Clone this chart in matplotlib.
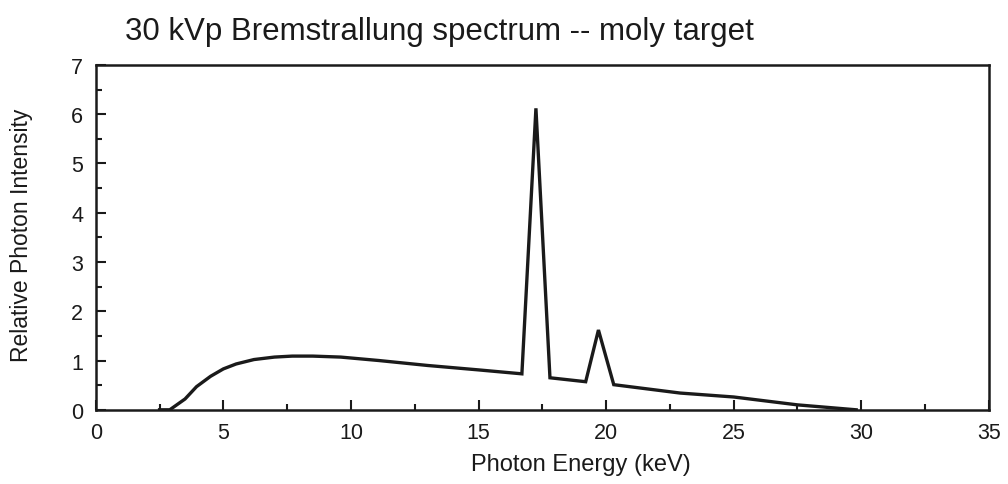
import numpy as np
import matplotlib
matplotlib.use("Agg")
import matplotlib.pyplot as plt
from matplotlib.ticker import MultipleLocator

# values
energy = [2.5, 2.9, 3.5, 3.95, 4.5, 5.0, 5.5, 6.2, 7.0, 7.7, 8.5, 9.6, 11.1, 13.0, 15.0, 16.7,
          17.25, 17.8, 19.2, 19.7, 20.3, 22.9, 25.0, 27.5, 29.8]
intensity = [0.0, 0.0, 0.22, 0.47, 0.68, 0.83, 0.93, 1.02, 1.07, 1.09, 1.09, 1.07, 1.0, 0.9, 0.81, 0.73,
             6.12, 0.65, 0.57, 1.62, 0.51, 0.34, 0.26, 0.1, 0.0]

plt.rcParams['font.family'] = ['Liberation Sans', 'DejaVu Sans']

fig = plt.figure(figsize=(10.08, 4.85), dpi=100)
ax = fig.add_axes([0.095, 0.153, 0.886, 0.711])

ax.plot(energy, intensity, color='#1a1a1a', lw=2.4, solid_joinstyle='miter')

ax.set_xlim(0, 35)
ax.set_ylim(0, 7)
ax.xaxis.set_major_locator(MultipleLocator(5))
ax.xaxis.set_minor_locator(MultipleLocator(2.5))
ax.yaxis.set_major_locator(MultipleLocator(1))
ax.yaxis.set_minor_locator(MultipleLocator(0.5))
ax.tick_params(which='both', direction='in', top=False, right=False, labelsize=15.5,
               width=1.5, pad=9, colors='#1a1a1a')
ax.tick_params(which='major', length=7)
ax.tick_params(which='minor', length=4)
for s in ax.spines.values():
    s.set_linewidth(1.8)
    s.set_color('#1a1a1a')

ax.set_xlabel('Photon Energy (keV)', fontsize=17, color='#1a1a1a')
ax.set_ylabel('Relative Photon Intensity', fontsize=16.5, color='#1a1a1a')
ax.xaxis.set_label_coords(0.543, -0.125)
ax.yaxis.set_label_coords(-0.07, 0.51)
fig.text(0.124, 0.935, '30 kVp Bremstrallung spectrum -- moly target', fontsize=22.5,
         va='center', color='#1a1a1a')

fig.savefig('out.png', dpi=100)
